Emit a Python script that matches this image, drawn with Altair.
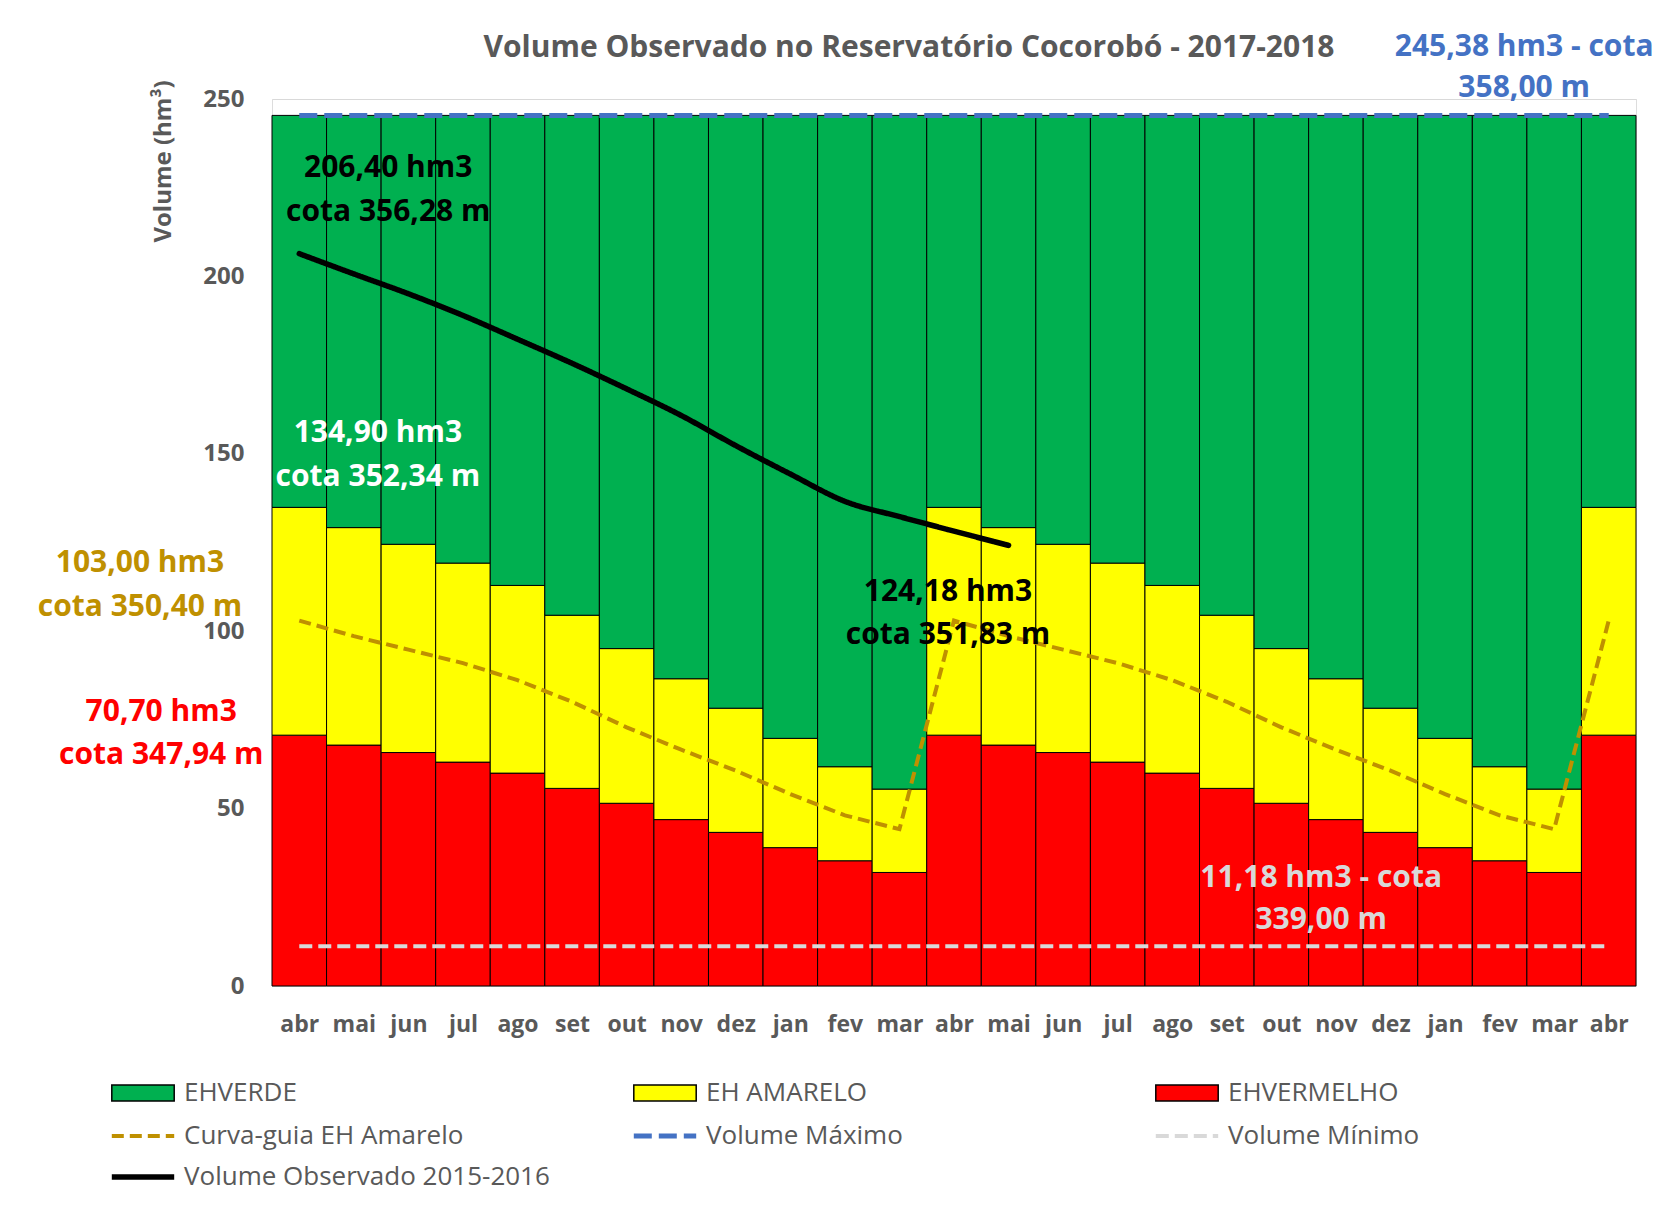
import json
import altair as alt
import pandas as pd

FONT = "Open Sans"
GRAY = "#595959"

MONTHS = ["abr", "mai", "jun", "jul", "ago", "set", "out", "nov", "dez", "jan", "fev", "mar",
          "abr", "mai", "jun", "jul", "ago", "set", "out", "nov", "dez", "jan", "fev", "mar", "abr"]

# upper limit of the red zone (EH vermelho)
RED_TOP = [70.70, 67.9, 65.8, 63.1, 60.0, 55.7, 51.5, 46.9, 43.3, 39.0, 35.3, 32.0,
           70.70, 67.9, 65.8, 63.1, 60.0, 55.7, 51.5, 46.9, 43.3, 39.0, 35.3, 32.0, 70.70]
# upper limit of the yellow zone (EH amarelo)
YELLOW_TOP = [134.90, 129.2, 124.5, 119.2, 112.9, 104.5, 95.1, 86.6, 78.3, 69.8, 61.8, 55.5,
              134.90, 129.2, 124.5, 119.2, 112.9, 104.5, 95.1, 86.6, 78.3, 69.8, 61.8, 55.5, 134.90]
VOL_MAX = 245.38
VOL_MIN = 11.18
CURVA = [103.00, 98.6, 94.8, 91.0, 86.2, 80.1, 72.9, 66.6, 60.7, 54.1, 48.1, 44.2,
         103.00, 98.6, 94.8, 91.0, 86.2, 80.1, 72.9, 66.6, 60.7, 54.1, 48.1, 44.2, 103.00]
OBSERVADO = [206.40, 200.7, 195.1, 189.0, 182.3, 175.5, 168.3, 160.8, 152.3, 144.3,
             136.6, 132.3, 128.2, 124.18]

BAR_SERIES = ["EHVERDE", "EH AMARELO", "EHVERMELHO"]
BAR_COLORS = ["#00B050", "#FFFF00", "#FF0000"]
LINE_SERIES = ["Curva-guia EH Amarelo", "Volume Máximo", "Volume Mínimo",
               "Volume Observado 2015-2016"]
LINE_COLORS = ["#BF9000", "#4472C4", "#D9D9D9", "#000000"]
LINE_DASHES = [[12, 6], [18, 7], [13, 6], [1, 0]]
LINE_WIDTHS = [4, 5, 4, 5.5]

# annotation texts (label, colour)
ANN_TEXT = [
    ("206,40 hm3", "#000000"), ("cota 356,28 m", "#000000"),
    ("134,90 hm3", "#FFFFFF"), ("cota 352,34 m", "#FFFFFF"),
    ("103,00 hm3", "#BF9000"), ("cota 350,40 m", "#BF9000"),
    ("70,70 hm3", "#FF0000"), ("cota 347,94 m", "#FF0000"),
    ("124,18 hm3", "#000000"), ("cota 351,83 m", "#000000"),
    ("11,18 hm3 - cota", "#D9D9D9"), ("339,00 m", "#D9D9D9"),
    ("245,38 hm3 - cota", "#4472C4"), ("358,00 m", "#4472C4"),
]
# annotation anchor positions in data units (month index, volume)
ANN_POS = [
    (1.63, 230.6), (1.63, 218.2),
    (1.44, 155.9), (1.44, 143.5),
    (-2.92, 119.2), (-2.92, 106.8),
    (-2.53, 77.2), (-2.53, 65.1),
    (11.89, 111.0), (11.89, 98.9),
    (18.73, 30.4), (18.73, 18.6),
    (22.45, 264.7), (22.45, 253.1),
]

# legend grid (pixel offsets from the plot origin)
LEG_X = [-142, 380, 902]
LEG_Y = [981, 1024, 1065]
LINE_LEG_CELL = [(0, 1), (1, 1), (2, 1), (0, 2)]

# ---------------- data tables ----------------
n = len(MONTHS)
bar_rows = []
for i in range(n):
    bar_rows.append({"serie": "EHVERMELHO", "i": i, "lo": 0.0, "hi": RED_TOP[i]})
    bar_rows.append({"serie": "EH AMARELO", "i": i, "lo": RED_TOP[i], "hi": YELLOW_TOP[i]})
    bar_rows.append({"serie": "EHVERDE", "i": i, "lo": YELLOW_TOP[i], "hi": VOL_MAX})
bars_df = pd.DataFrame(bar_rows)

line_values = [CURVA, [VOL_MAX] * n, [VOL_MIN] * n, OBSERVADO]

ann_df = pd.DataFrame({
    "t": [a[0] for a in ANN_TEXT], "c": [a[1] for a in ANN_TEXT],
    "x": [p[0] for p in ANN_POS], "y": [p[1] for p in ANN_POS],
})

# ---------------- scales / axes ----------------
xscale = alt.Scale(domain=[-0.5, n - 0.5], nice=False, zero=False)
yscale = alt.Scale(domain=[0, 250], nice=False, zero=True)

xaxis = alt.Axis(
    values=list(range(n)), labelExpr=json.dumps(MONTHS) + "[datum.value]",
    title=None, ticks=False, tickSize=0, grid=False, domain=True, domainColor="#D9D9D9",
    labelFont=FONT, labelFontSize=23, labelFontWeight="bold", labelColor=GRAY,
    labelPadding=38, labelBaseline="middle", labelAngle=0, labelOverlap=False, labelFlush=False,
)
yaxis = alt.Axis(
    values=[0, 50, 100, 150, 200, 250], title="Volume (hm³)",
    ticks=False, tickSize=0, domain=False, grid=True, gridColor="#D9D9D9",
    labelFont=FONT, labelFontSize=24, labelFontWeight="bold", labelColor=GRAY, labelPadding=28,
    titleFont=FONT, titleFontSize=24, titleFontWeight="bold", titleColor=GRAY,
    titleX=-109, titleY=62, titleAlign="center", titleBaseline="middle", titleAngle=-90,
)

legend_common = dict(
    title=None, orient="none", padding=0,
    labelFont=FONT, labelFontSize=26, labelColor=GRAY, labelLimit=600, labelOffset=28,
    symbolSize=256,
)
legend_bars = alt.Legend(
    legendX=LEG_X[0], legendY=LEG_Y[0], columns=3, gridAlign="all", columnPadding=275,
    symbolType="M-3.9,-1H3.9V1H-3.9Z", symbolStrokeColor="#000000", symbolStrokeWidth=1.5,
    values=BAR_SERIES, **legend_common,
)

# ---------------- layers ----------------
bars = alt.Chart(bars_df).transform_calculate(
    x0="datum.i - 0.5", x1="datum.i + 0.5"
).mark_bar(stroke="black", strokeWidth=1).encode(
    x=alt.X("x0:Q", scale=xscale, axis=xaxis),
    x2="x1:Q",
    y=alt.Y("lo:Q", scale=yscale, axis=yaxis),
    y2="hi:Q",
    fill=alt.Fill("serie:N", scale=alt.Scale(domain=BAR_SERIES, range=BAR_COLORS),
                  legend=legend_bars),
)

line_layers = []
for k, serie in enumerate(LINE_SERIES):
    vals = line_values[k]
    df = pd.DataFrame({"serie": serie, "i": list(range(len(vals))), "v": vals})
    col, row = LINE_LEG_CELL[k]
    leg = alt.Legend(
        legendX=LEG_X[col], legendY=LEG_Y[row], symbolType="M-3.9,0H3.9",
        symbolFillColor="transparent", symbolStrokeWidth=LINE_WIDTHS[k], **legend_common,
    )
    smooth = serie == LINE_SERIES[3]
    line_layers.append(
        alt.Chart(df).mark_line(
            strokeWidth=LINE_WIDTHS[k],
            strokeCap="round" if smooth else "butt",
            interpolate="monotone" if smooth else "linear",
        ).encode(
            x=alt.X("i:Q", scale=xscale, axis=xaxis),
            y=alt.Y("v:Q", scale=yscale, axis=yaxis),
            stroke=alt.Stroke("serie:N", scale=alt.Scale(domain=[serie], range=[LINE_COLORS[k]]),
                              legend=leg),
            strokeDash=alt.StrokeDash("serie:N",
                                      scale=alt.Scale(domain=[serie], range=[LINE_DASHES[k]]),
                                      legend=leg),
        )
    )

texts = []
for c in ann_df["c"].unique():
    texts.append(
        alt.Chart(ann_df[ann_df["c"] == c]).mark_text(
            font=FONT, fontSize=30, fontWeight="bold", color=c, align="center", baseline="middle"
        ).encode(
            x=alt.X("x:Q", scale=xscale, axis=xaxis),
            y=alt.Y("y:Q", scale=yscale, axis=yaxis),
            text="t:N",
        )
    )

chart = alt.layer(bars, *line_layers, *texts).resolve_scale(
    stroke="independent", strokeDash="independent"
).properties(
    width=1364, height=887,
    title=alt.TitleParams(
        "Volume Observado no Reservatório Cocorobó - 2017-2018",
        font=FONT, fontSize=30, fontWeight="bold", color=GRAY,
        anchor="middle", dx=-45, offset=0, dy=46, baseline="middle", frame="group",
    ),
    autosize=alt.AutoSizeParams(type="none"),
    padding={"left": 264, "top": 91, "right": 25, "bottom": 225},
).configure_view(strokeWidth=0).configure(font=FONT)

chart.save("out.html", embed_options={"renderer": "svg", "actions": False})
